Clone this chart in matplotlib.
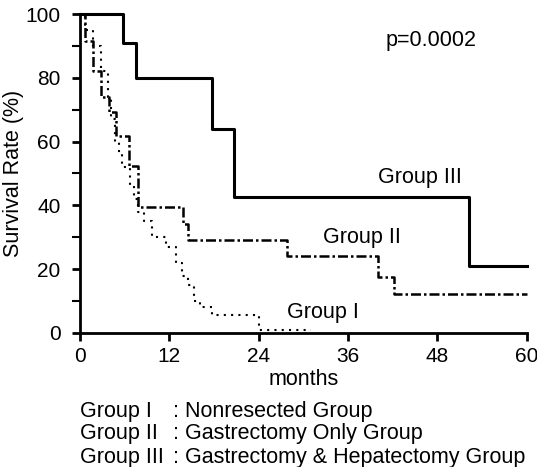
import numpy as np
import matplotlib.pyplot as plt
from matplotlib.ticker import MultipleLocator

plt.rcParams['font.family'] = ['Liberation Sans', 'DejaVu Sans']

# Kaplan-Meier steps (months, survival %)
g3_t = [0, 5.8, 7.5, 17.7, 20.7, 52.2, 60]
g3_s = [100, 90.9, 80, 64, 42.7, 21, 21]

g2_t = [0, 0.7, 1.7, 2.8, 3.9, 4.8, 6.6, 7.8, 13.8, 14.5, 27.8, 40.0, 42.1, 60]
g2_s = [100, 91.5, 82, 74, 69.3, 61.7, 52.4, 39.5, 34.2, 29.2, 24.1, 17.6, 12.2, 12.2]

g1_t = [0, 0.7, 1.7, 2.8, 3.8, 4.2, 4.7, 5.2, 5.7, 6.7, 7.3, 7.8, 8.6, 9.7,
        11.5, 12.9, 13.7, 14.5, 15.3, 16.1, 17.7, 24.0, 31]
g1_s = [100, 95, 90, 82, 74, 67, 60, 56, 52, 46, 42, 38, 35, 30,
        27, 22, 18, 15, 10, 8, 5.5, 1, 1]

x_ticks = [0, 12, 24, 36, 48, 60]
y_ticks = [0, 20, 40, 60, 80, 100]

fs = 15.5

fig = plt.figure(figsize=(5.37, 4.67), dpi=100)
ax = fig.add_axes([0.149, 0.287, 0.832, 0.683])

ax.step(g3_t, g3_s, where='post', color='black', lw=2.2, clip_on=False)
ax.step(g2_t, g2_s, where='post', color='black', lw=1.8,
        linestyle=(0, (4, 1.2, 1, 1.2)), clip_on=False)
ax.step(g1_t, g1_s, where='post', color='black', lw=1.5,
        linestyle=(0, (1, 2.5)), clip_on=False)

ax.set_xlim(0, 60)
ax.set_ylim(0, 100)
ax.set_xticks(x_ticks)
ax.set_yticks(y_ticks)
ax.yaxis.set_minor_locator(MultipleLocator(10))
ax.spines['top'].set_visible(False)
ax.spines['right'].set_visible(False)
for s in ['left', 'bottom']:
    ax.spines[s].set_linewidth(2)
ax.tick_params(width=2, length=6, labelsize=15, direction='out')
ax.tick_params(axis='y', pad=8)
ax.tick_params(axis='x', pad=4)
ax.tick_params(axis='y', which='minor', width=1.5, length=6)
ax.set_ylabel('Survival Rate (%)', fontsize=fs)
ax.yaxis.set_label_coords(-0.125, 0.5)
ax.set_xlabel('months', fontsize=fs)
ax.xaxis.set_label_coords(0.5, -0.112)

ax.text(47.1, 91.8, 'p=0.0002', fontsize=fs, ha='center', va='center')
ax.text(45.6, 48.6, 'Group III', fontsize=fs, ha='center', va='center')
ax.text(37.9, 30, 'Group II', fontsize=fs, ha='center', va='center')
ax.text(32.6, 6.3, 'Group I', fontsize=fs, ha='center', va='center')

groups = ['Group I', 'Group II', 'Group III']
descs = [': Nonresected Group', ': Gastrectomy Only Group',
         ': Gastrectomy & Hepatectomy Group']
for i, (g, d) in enumerate(zip(groups, descs)):
    y = 1 - (411 + 23 * i) / 467
    fig.text(80 / 537, y, g, fontsize=fs, va='center')
    fig.text(173 / 537, y, d, fontsize=fs, va='center')

fig.savefig('out.png', dpi=100)
